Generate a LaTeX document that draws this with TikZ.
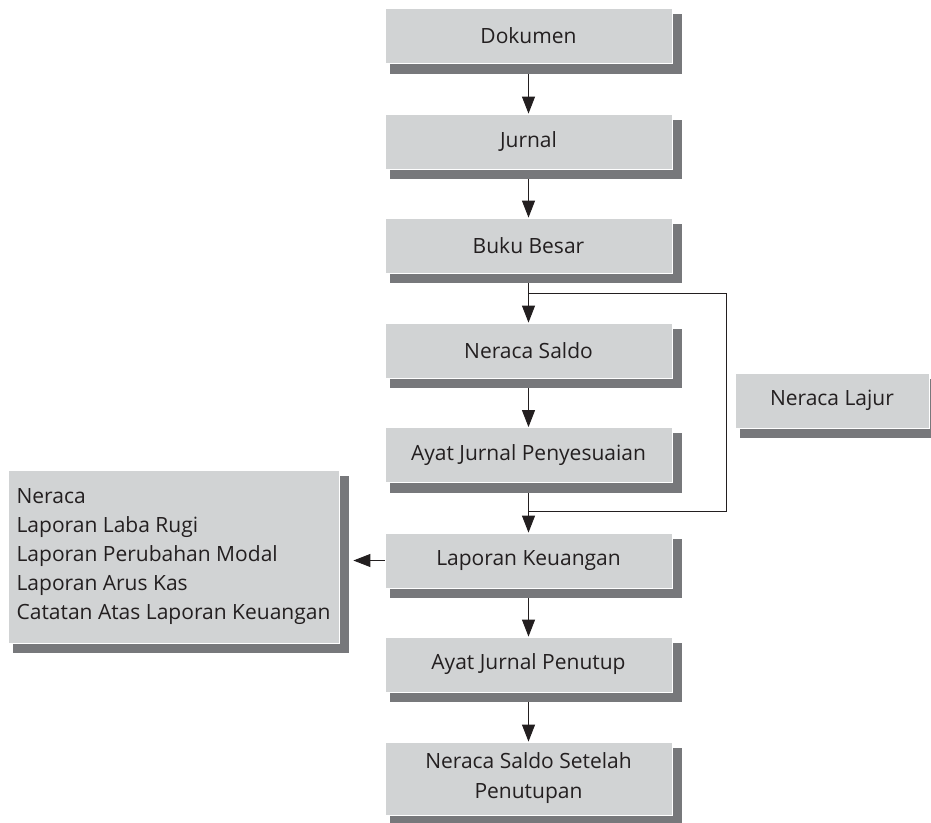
\documentclass[tikz,border=0pt]{standalone}
\usepackage{fontspec}
\setmainfont{Open Sans}
\usetikzlibrary{arrows.meta,backgrounds}
\definecolor{facegray}{HTML}{D1D3D4}
\definecolor{shadegray}{HTML}{77787B}
\definecolor{ink}{HTML}{231F20}
\begin{document}
\begin{tikzpicture}[x=1pt,y=-1pt,
  box/.style={fill=facegray, draw=white, line width=0.8pt, text=ink,
    font=\fontsize{21}{29}\selectfont, inner sep=0pt},
  mainbox/.style={box, minimum width=287pt, minimum height=55pt, align=center},
  arr/.style={draw=ink, line width=1pt, -{Triangle[width=13pt,length=17pt]}},
  link/.style={draw=ink, line width=1pt}]
\useasboundingbox (0,0) rectangle (931,822);
\node[mainbox] (dok) at (528.5,36) {Dokumen};
\node[mainbox] (jur) at (528.5,141.5) {Jurnal};
\node[mainbox] (bb) at (528.5,245.5) {Buku Besar};
\node[mainbox] (ns) at (528.5,350.5) {Neraca Saldo};
\node[mainbox] (ajp) at (528.5,455) {Ayat Jurnal Penyesuaian};
\node[mainbox] (lk) at (528.5,560.5) {Laporan Keuangan};
\node[mainbox] (ajt) at (528.5,664.5) {Ayat Jurnal Penutup};
\node[mainbox, minimum height=73pt, font=\fontsize{21}{30}\selectfont] (nsp) at (528.5,778.5) {Neraca Saldo Setelah\\Penutupan};
\node[box, minimum width=194pt, minimum height=55pt] (nl) at (832,400.5) {Neraca Lajur};
\node[box, minimum width=331pt, minimum height=173pt, align=left] (lap) at (173.5,556.5)
  {Neraca\\Laporan Laba Rugi\\Laporan Perubahan Modal\\Laporan Arus Kas\\Catatan Atas Laporan Keuangan};
\coordinate (c1) at (726,293);
\coordinate (c2) at (726,511);
\begin{scope}[on background layer]
  \draw[arr] (dok) -- (jur);
  \draw[arr] (jur) -- (bb);
  \draw[arr] (bb) -- (ns);
  \draw[arr] (ns) -- (ajp);
  \draw[arr] (ajp) -- (lk);
  \draw[arr] (lk) -- (ajt);
  \draw[arr] (ajt) -- (nsp);
  \draw[link] (bb.south |- c1) -- (c1) -- (c2) -- (ajp.south |- c2);
  \draw[arr] (lk.west) -- ([xshift=14pt]lap.east |- lk.west);
  \foreach \n in {dok,jur,bb,ns,ajp,lk,ajt,nsp,nl,lap}
    \fill[shadegray] ([xshift=5pt,yshift=-6pt]\n.north west) rectangle ([xshift=10pt,yshift=-10pt]\n.south east);
\end{scope}
\end{tikzpicture}
\end{document}
